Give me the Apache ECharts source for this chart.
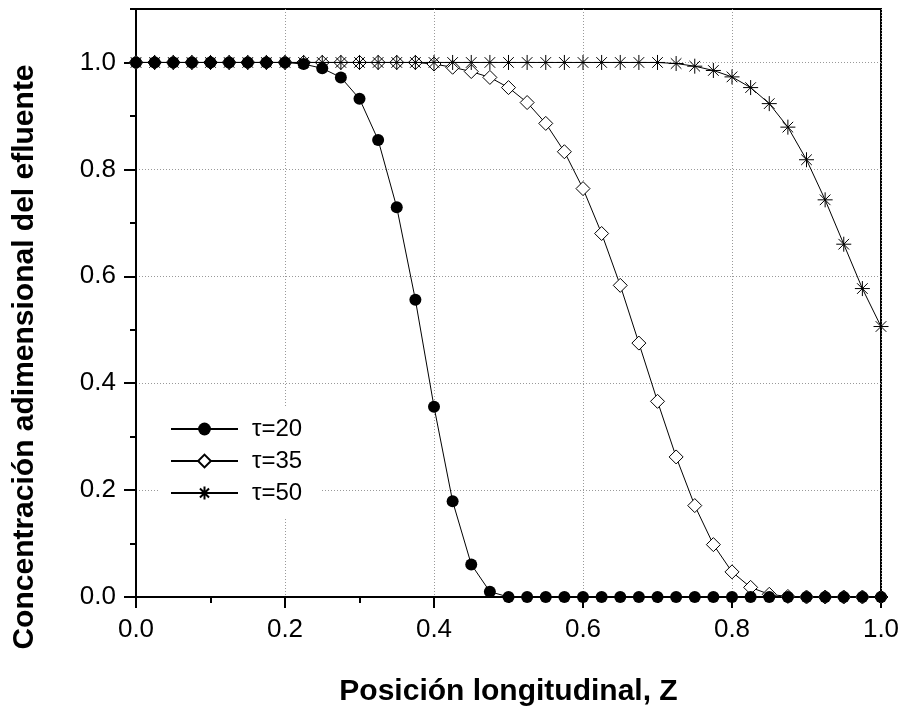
<!DOCTYPE html>
<html>
<head>
<meta charset="utf-8">
<script src="https://cdn.jsdelivr.net/npm/echarts@6/dist/echarts.min.js"></script>
<style>
html,body{margin:0;padding:0;background:#fff;}
#chart{width:904px;height:712px;}
</style>
</head>
<body>
<div id="chart"></div>
<script>
// Axial position Z (every 0.025)
const zValues = [0, 0.025, 0.05, 0.075, 0.1, 0.125, 0.15, 0.175, 0.2, 0.225,
  0.25, 0.275, 0.3, 0.325, 0.35, 0.375, 0.4, 0.425, 0.45, 0.475,
  0.5, 0.525, 0.55, 0.575, 0.6, 0.625, 0.65, 0.675, 0.7, 0.725,
  0.75, 0.775, 0.8, 0.825, 0.85, 0.875, 0.9, 0.925, 0.95, 0.975, 1.0];

const tau20 = [1, 1, 1, 1, 1, 1, 1, 1, 1, 0.997,
  0.989, 0.972, 0.932, 0.855, 0.729, 0.556, 0.356, 0.179, 0.061, 0.010,
  0, 0, 0, 0, 0, 0, 0, 0, 0, 0,
  0, 0, 0, 0, 0, 0, 0, 0, 0, 0, 0];

const tau35 = [1, 1, 1, 1, 1, 1, 1, 1, 1, 1,
  1, 1, 1, 1, 1, 1, 0.997, 0.991, 0.983, 0.972,
  0.953, 0.925, 0.886, 0.833, 0.764, 0.680, 0.583, 0.475, 0.366, 0.262,
  0.171, 0.098, 0.047, 0.018, 0.005, 0.001, 0, 0, 0, 0, 0];

const tau50 = [1, 1, 1, 1, 1, 1, 1, 1, 1, 1,
  1, 1, 1, 1, 1, 1, 1, 1, 1, 1,
  1, 1, 1, 1, 1, 1, 1, 1, 1, 0.998,
  0.993, 0.985, 0.973, 0.953, 0.923, 0.879, 0.818, 0.743, 0.660, 0.577, 0.506];

const seriesNames = ['\u03c4=20', '\u03c4=35', '\u03c4=50'];
const yTickValues = [0, 0.2, 0.4, 0.6, 0.8, 1.0];
const xTickValues = [0, 0.2, 0.4, 0.6, 0.8, 1.0];
const xTitle = 'Posición longitudinal, Z';
const yTitle = 'Concentración adimensional del efluente';

const FONT = "'Liberation Sans', Arial, sans-serif";
const pairs = (ys) => zValues.map((z, i) => [z, ys[i]]);
const asterisk = 'path://M0,-1L0,1M-1,0L1,0M-0.707,-0.707L0.707,0.707M-0.707,0.707L0.707,-0.707';

const chart = echarts.init(document.getElementById('chart'), null, {renderer: 'canvas'});
chart.setOption({
  animation: false,
  backgroundColor: '#fff',
  grid: {left: 136, right: 23, top: 9, bottom: 112, show: true,
    borderColor: '#000', borderWidth: 2, backgroundColor: 'transparent'},
  legend: {
    orient: 'vertical', left: 160, top: 406,
    padding: [11, 18, 13, 10],
    backgroundColor: '#fff',
    itemWidth: 67, itemHeight: 16, itemGap: 8,
    data: seriesNames,
    textStyle: {fontFamily: FONT, fontSize: 24, lineHeight: 23, color: '#000', padding: [0, 0, 0, 9]}
  },
  xAxis: {
    type: 'value', min: 0, max: 1, interval: 0.2,
    name: xTitle, nameLocation: 'middle', nameGap: 80,
    nameTextStyle: {fontFamily: FONT, fontSize: 30, fontWeight: 'bold', color: '#000'},
    axisLine: {show: true, onZero: false, lineStyle: {color: '#000', width: 2}},
    axisTick: {show: true, length: 11, lineStyle: {color: '#000', width: 2}},
    minorTick: {show: true, splitNumber: 2, length: 6, lineStyle: {color: '#000', width: 2}},
    axisLabel: {fontFamily: FONT, fontSize: 26, color: '#000', margin: 20,
      formatter: (v) => v.toFixed(1)},
    splitLine: {show: true, lineStyle: {color: '#999', width: 1, type: [1, 2]}}
  },
  yAxis: [{
    type: 'value', min: 0, max: 1.1, interval: 0.2,
    name: yTitle, nameLocation: 'middle', nameGap: 96,
    nameTextStyle: {fontFamily: FONT, fontSize: 30, fontWeight: 'bold', color: '#000', padding: [0, 108, 0, 0]},
    axisLine: {show: true, onZero: false, lineStyle: {color: '#000', width: 2}},
    axisTick: {show: true, length: 12, lineStyle: {color: '#000', width: 2}, customValues: yTickValues},
    axisLabel: {fontFamily: FONT, fontSize: 26, color: '#000', margin: 20, customValues: yTickValues,
      formatter: (v) => v.toFixed(1)},
    splitLine: {show: true, lineStyle: {color: '#999', width: 1, type: [1, 2]}}
  }, {
    type: 'value', min: 0, max: 1.1, interval: 0.1, position: 'left', offset: 0,
    axisLine: {show: false},
    axisTick: {show: true, length: 6, lineStyle: {color: '#000', width: 2}},
    axisLabel: {show: false},
    splitLine: {show: false}
  }],
  series: [{
    name: seriesNames[0], type: 'line', z: 4, data: pairs(tau20),
    symbol: 'circle', symbolSize: 12,
    itemStyle: {color: '#000', borderColor: '#000', borderWidth: 0},
    lineStyle: {color: '#000', width: 1}
  }, {
    name: seriesNames[1], type: 'line', z: 2, data: pairs(tau35),
    symbol: 'diamond', symbolSize: 14,
    itemStyle: {color: '#fff', borderColor: '#000', borderWidth: 1},
    lineStyle: {color: '#000', width: 1}
  }, {
    name: seriesNames[2], type: 'line', z: 3, data: pairs(tau50),
    symbol: asterisk, symbolSize: 15,
    itemStyle: {color: '#000', borderColor: '#000', borderWidth: 1},
    lineStyle: {color: '#000', width: 1}
  }]
});
</script>
</body>
</html>
